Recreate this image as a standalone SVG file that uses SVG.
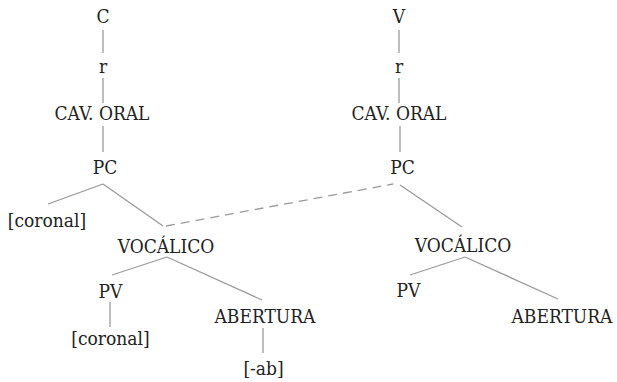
<svg xmlns="http://www.w3.org/2000/svg" width="617" height="382" viewBox="0 0 617 382">
<style>
text{font-family:"DejaVu Serif","Liberation Serif",serif;font-stretch:condensed;font-size:19px;fill:#222;text-anchor:middle}
.l{stroke:#9a9a9a;stroke-width:1.3;fill:none}
.d{stroke-dasharray:9,6}
</style>
<rect width="617" height="382" fill="#fff"/>
<g id="connectors">
<line class="l" x1="103" y1="30" x2="103" y2="53"/>
<line class="l" x1="103" y1="78" x2="103" y2="103"/>
<line class="l" x1="103" y1="126" x2="103" y2="152"/>
<line class="l" x1="103" y1="184" x2="48" y2="204"/>
<line class="l" x1="103" y1="184" x2="163" y2="226"/>
<line class="l" x1="167" y1="257" x2="112" y2="275"/>
<line class="l" x1="167" y1="257" x2="262" y2="300"/>
<line class="l" x1="110" y1="302" x2="110" y2="327"/>
<line class="l" x1="263" y1="328" x2="263" y2="353"/>
<line class="l d" x1="166" y1="226" x2="393" y2="184"/>
<line class="l" x1="399" y1="30" x2="399" y2="53"/>
<line class="l" x1="399" y1="78" x2="399" y2="103"/>
<line class="l" x1="400" y1="126" x2="400" y2="152"/>
<line class="l" x1="400" y1="185" x2="462" y2="227"/>
<line class="l" x1="465" y1="257" x2="410" y2="275"/>
<line class="l" x1="465" y1="257" x2="558" y2="299"/>
</g>
<g id="C"><text x="103" y="23">C</text></g>
<g id="r1"><text x="103" y="73">r</text></g>
<g id="cav1"><text x="102" y="120">CAV. ORAL</text></g>
<g id="pc1"><text x="105" y="174">PC</text></g>
<g id="coronal1"><text x="47" y="227">[coronal]</text></g>
<g id="voc1"><text x="166" y="253">VOCÁLICO</text></g>
<g id="pv1"><text x="110.5" y="298">PV</text></g>
<g id="coronal2"><text x="110.5" y="345">[coronal]</text></g>
<g id="ab1"><text x="265" y="323">ABERTURA</text></g>
<g id="minusab"><text x="263.5" y="375">[-ab]</text></g>
<g id="V"><text x="399" y="23">V</text></g>
<g id="r2"><text x="399" y="73">r</text></g>
<g id="cav2"><text x="399" y="120">CAV. ORAL</text></g>
<g id="pc2"><text x="402.5" y="174">PC</text></g>
<g id="voc2"><text x="463" y="252">VOCÁLICO</text></g>
<g id="pv2"><text x="408.5" y="297">PV</text></g>
<g id="ab2"><text x="562" y="323">ABERTURA</text></g>
</svg>
